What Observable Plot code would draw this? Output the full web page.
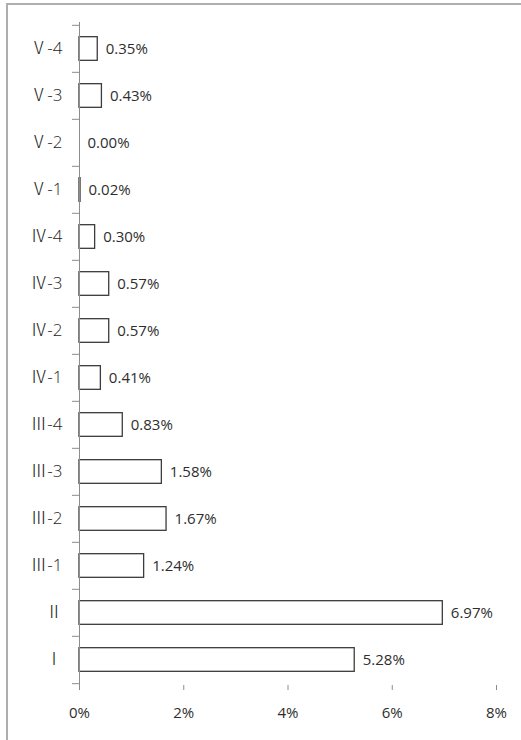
<!DOCTYPE html>
<html><head><meta charset="utf-8">
<script src="https://cdn.jsdelivr.net/npm/d3@7"></script>
<script src="https://cdn.jsdelivr.net/npm/@observablehq/plot@0.6"></script>
<style>
body{margin:0;background:#fff;}
#wrap{position:relative;width:521px;height:740px;overflow:hidden;}
#frame{position:absolute;left:6px;top:3px;width:600px;height:800px;border-left:2px solid #aeaeae;border-top:2px solid #aeaeae;}
#chart{position:absolute;left:0;top:0;}
#chart g[aria-label="y-axis tick label"] text{font-feature-settings:"fwid" 1;}
</style></head><body>
<div id="wrap"><div id="frame"></div><div id="chart"></div></div>
<script>
const categories = ["Ⅴ-4","Ⅴ-3","Ⅴ-2","Ⅴ-1","Ⅳ-4","Ⅳ-3","Ⅳ-2","Ⅳ-1","Ⅲ-4","Ⅲ-3","Ⅲ-2","Ⅲ-1","Ⅱ","Ⅰ"];
const values = [0.35,0.43,0.00,0.02,0.30,0.57,0.57,0.41,0.83,1.58,1.67,1.24,6.97,5.28];
const xTicks = [0,2,4,6,8];

const data = categories.map((c,i)=>({category:c, value:values[i]}));
const W=521,H=740,mt=22,mb=55,ml=79,mr=25;
const step=(H-mt-mb)/categories.length;
const inset=(step-24)/2;
const axisGray="#8c8c8c";

const chart = Plot.plot({
  width:W, height:H,
  marginTop:mt, marginBottom:mb, marginLeft:ml, marginRight:mr,
  style:{fontFamily:"'Open Sans','Noto Sans CJK JP',sans-serif", fontSize:"15px", background:"transparent", overflow:"visible"},
  x:{domain:[0,8]},
  y:{domain:categories, padding:0},
  marks:[
    Plot.barX(data,{x:"value", y:"category", fill:"white", stroke:"#3c3c3c", strokeWidth:1.3, insetTop:inset, insetBottom:inset}),
    Plot.ruleX([0],{stroke:axisGray}),
    Plot.axisX({ticks:xTicks, tickFormat:d=>d+"%", tickSize:5, tickPadding:17, stroke:axisGray, fill:"#2e2e2e", fontSize:15, line:true, label:null}),
    Plot.axisY({tickSize:0, tickPadding:17, fill:"#1e1e1e", fontSize:17, fontWeight:300, label:null}),
    Plot.axisY({ticks:categories, text:null, tickSize:7, dy:-step/2, stroke:axisGray, label:null}),
    Plot.axisY({ticks:[categories[categories.length-1]], text:null, tickSize:7, dy:step/2, stroke:axisGray, label:null}),
    Plot.text(data,{x:"value", y:"category", text:d=>d.value.toFixed(2)+"%", textAnchor:"start", dx:8, fontSize:15, fill:"#2e2e2e"})
  ]
});
document.getElementById("chart").appendChild(chart);
</script>
</body></html>
